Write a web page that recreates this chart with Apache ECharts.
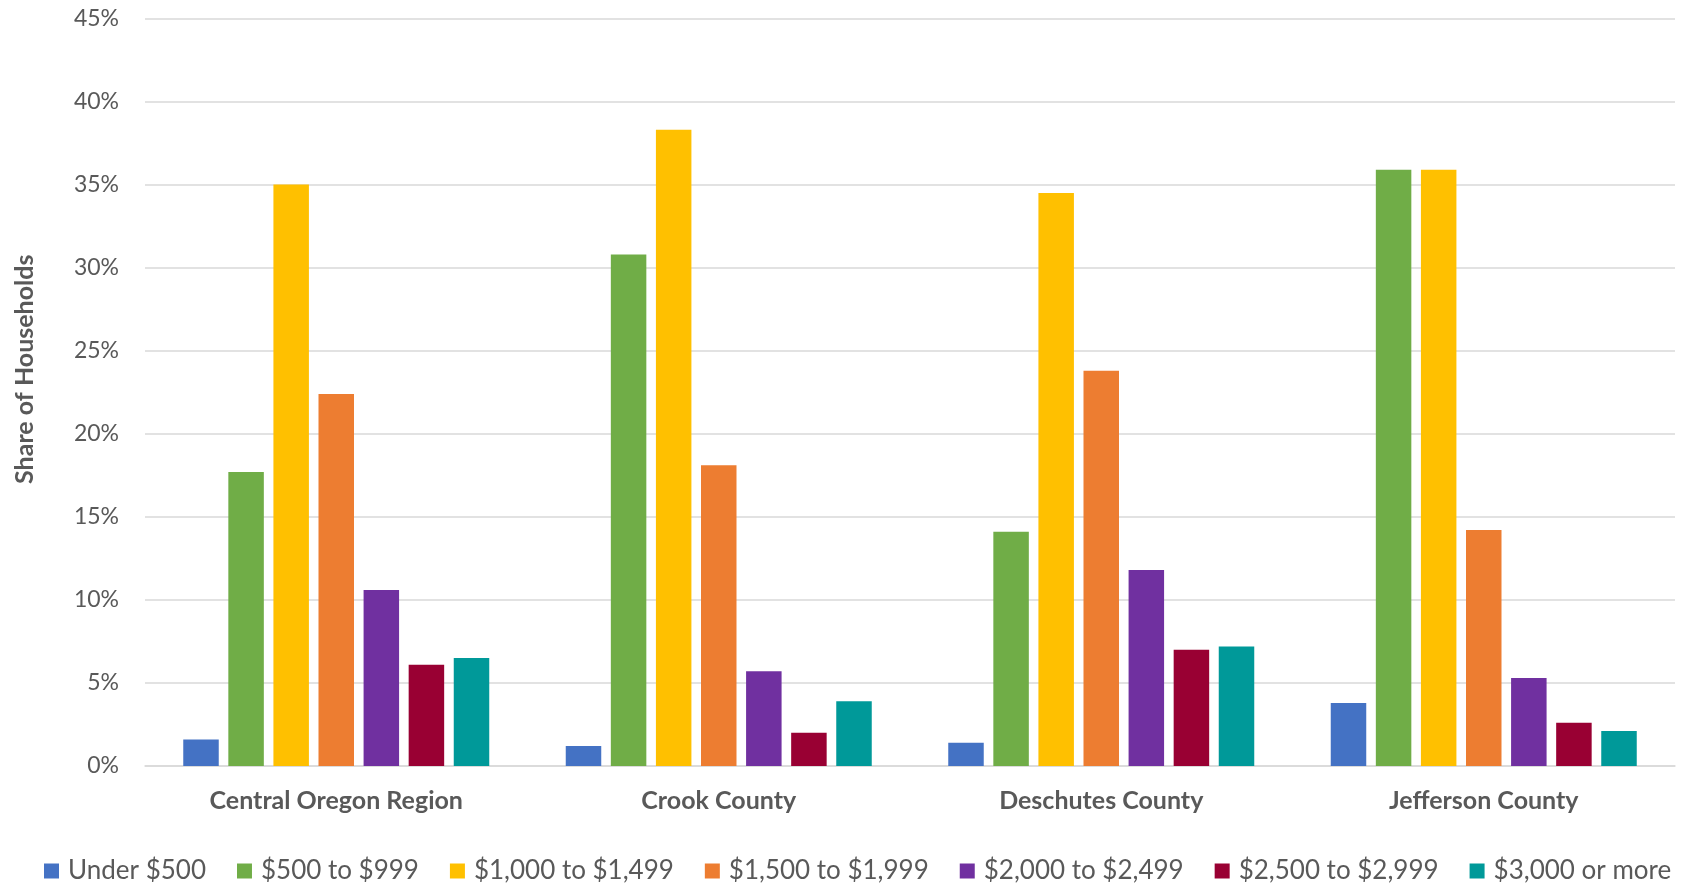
<!DOCTYPE html>
<html>
<head>
<meta charset="utf-8">
<script src="https://cdn.jsdelivr.net/npm/echarts@6/dist/echarts.min.js"></script>
<style>
html,body{margin:0;padding:0;background:#fff;}
#chart{width:1690px;height:886px;}
</style>
</head>
<body>
<div id="chart"></div>
<script>
const categories = ['Central Oregon Region', 'Crook County', 'Deschutes County', 'Jefferson County'];
const seriesNames = ['Under $500', '$500 to $999', '$1,000 to $1,499', '$1,500 to $1,999', '$2,000 to $2,499', '$2,500 to $2,999', '$3,000 or more'];
const under500 = [1.6, 1.2, 1.4, 3.8];
const s500to999 = [17.7, 30.8, 14.1, 35.9];
const s1000to1499 = [35.0, 38.3, 34.5, 35.9];
const s1500to1999 = [22.4, 18.1, 23.8, 14.2];
const s2000to2499 = [10.6, 5.7, 11.8, 5.3];
const s2500to2999 = [6.1, 2.0, 7.0, 2.6];
const s3000plus = [6.5, 3.9, 7.2, 2.1];
const colors = ['#4472C4', '#70AD47', '#FFC000', '#ED7D31', '#7030A0', '#990033', '#009999'];
const yTicks = [0, 5, 10, 15, 20, 25, 30, 35, 40, 45];

const values = [under500, s500to999, s1000to1499, s1500to1999, s2000to2499, s2500to2999, s3000plus];
const FONT = 'Lato';
const TXT = '#595959';

const chart = echarts.init(document.getElementById('chart'));
chart.setOption({
  animation: false,
  textStyle: { fontFamily: FONT },
  grid: { left: 145, right: 15, top: 18.5, bottom: 120, containLabel: false },
  legend: {
    top: 853,
    left: 39,
    itemWidth: 15,
    itemHeight: 15,
    itemGap: 31,
    icon: 'rect',
    textStyle: { fontFamily: FONT, fontSize: 26, color: TXT, padding: [0, 0, 0, 4] },
    data: seriesNames
  },
  xAxis: {
    type: 'category',
    data: categories,
    axisLine: { lineStyle: { color: '#D9D9D9', width: 1.5 } },
    axisTick: { show: false },
    axisLabel: { fontFamily: FONT, fontSize: 25, fontWeight: 'bold', color: TXT, margin: 22 }
  },
  yAxis: {
    type: 'value',
    min: 0,
    max: 45,
    interval: 5,
    name: 'Share of Households',
    nameLocation: 'middle',
    nameGap: 108,
    nameTextStyle: { fontFamily: FONT, fontSize: 25, fontWeight: 'bold', color: TXT, padding: [0, 0, 0, 46] },
    axisLine: { show: false },
    axisTick: { show: false },
    splitLine: { lineStyle: { color: '#D9D9D9', width: 1.5 } },
    axisLabel: { fontFamily: FONT, fontSize: 23, color: TXT, margin: 26, formatter: v => yTicks.includes(v) ? v + '%' : '' }
  },
  series: seriesNames.map((name, i) => ({
    name: name,
    type: 'bar',
    data: values[i],
    barCategoryGap: '20%',
    barGap: '27%',
    itemStyle: { color: colors[i] }
  }))
});
</script>
</body>
</html>
